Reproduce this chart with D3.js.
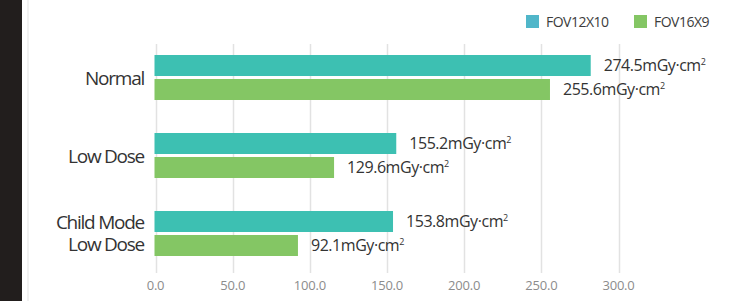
<!DOCTYPE html>
<html>
  <head>
    <meta charset="utf-8">
    <title>dose chart</title>
    <style>
      body { margin: 0; background: #fff; }
      svg text { font-family: "Open Sans", "Noto Sans", sans-serif; }
    </style>
  </head>
  <body>
    <div id="container"></div>
    <script src="https://cdn.jsdelivr.net/npm/d3@7"></script>
    <script>
      // data
      var categories = [["Normal"], ["Low Dose"], ["Child Mode", "Low Dose"]];
      var series = ["FOV12X10", "FOV16X9"];
      var fov12Values = [282.0, 156.0, 153.9];
      var fov16Values = [255.6, 115.7, 92.3];
      var fov12Labels = ["274.5", "155.2", "153.8"];
      var fov16Labels = ["255.6", "129.6", "92.1"];
      var xTicks = [0, 50, 100, 150, 200, 250, 300];
      var colors = ["#3dc0b2", "#84c664"];
      var legendColors = ["#50b6c9", "#84c664"];

      var width = 729, height = 301;

      var svg = d3.select("#container").append("svg")
        .attr("width", width)
        .attr("height", height);

      // dark strip on the left + light separator
      svg.append("rect").attr("x", 0).attr("y", 0).attr("width", 22).attr("height", height).style("fill", "#221e1d");
      svg.append("rect").attr("x", 27).attr("y", 0).attr("width", 2).attr("height", height).style("fill", "#f1f1f1");

      var x = d3.scaleLinear().domain([0, 300]).range([155.5, 618.5]);
      var keys = categories.map(function(d, i) { return i; });
      var y0 = d3.scaleBand().domain(keys).range([55, 256]).paddingInner(0.423).paddingOuter(0);
      var y1 = d3.scaleBand().domain(series).range([0, y0.bandwidth()]).paddingInner(0.125);

      // grid
      svg.selectAll(".grid")
          .data(xTicks)
        .enter().append("line")
          .attr("class", "grid")
          .attr("x1", function(d) { return Math.round(x(d)) + 0.5; })
          .attr("x2", function(d) { return Math.round(x(d)) + 0.5; })
          .attr("y1", 44)
          .attr("y2", 273)
          .style("stroke", "#e2e2e2")
          .style("stroke-width", 1.5);

      svg.selectAll(".tick-label")
          .data(xTicks)
        .enter().append("text")
          .attr("class", "tick-label")
          .attr("x", function(d) { return x(d); })
          .attr("y", 290)
          .attr("text-anchor", "middle")
          .style("font-size", "13px")
          .style("fill", "#8c8c8c")
          .style("letter-spacing", "-0.2px")
          .text(function(d) { return d.toFixed(1); });

      var rows = keys.map(function(i) {
        return [
          {k: series[0], v: fov12Values[i], t: fov12Labels[i], c: colors[0], i: i},
          {k: series[1], v: fov16Values[i], t: fov16Labels[i], c: colors[1], i: i}
        ];
      });

      var g = svg.selectAll(".group")
          .data(rows)
        .enter().append("g")
          .attr("class", "group")
          .attr("transform", function(d, i) { return "translate(0," + y0(i) + ")"; });

      g.selectAll("rect")
          .data(function(d) { return d; })
        .enter().append("rect")
          .attr("x", x(0) - 1)
          .attr("y", function(d) { return y1(d.k); })
          .attr("width", function(d) { return x(d.v) - x(0) + 1; })
          .attr("height", y1.bandwidth())
          .style("fill", function(d) { return d.c; });

      var vl = g.selectAll(".val")
          .data(function(d) { return d; })
        .enter().append("text")
          .attr("class", "val")
          .attr("x", function(d) { return x(d.v) + 13; })
          .attr("y", function(d) { return y1(d.k) + y1.bandwidth() / 2 + 5.5; })
          .style("font-size", "16px")
          .style("fill", "#333")
          .style("letter-spacing", "-0.45px");
      vl.append("tspan").text(function(d) { return d.t + "mGy·cm"; });
      vl.append("tspan").attr("dy", -6).style("font-size", "9px").text("2");

      // category labels
      var cl = svg.selectAll(".cat")
          .data(categories)
        .enter().append("text")
          .attr("class", "cat")
          .attr("text-anchor", "end")
          .style("font-size", "19px")
          .style("fill", "#333")
          .style("letter-spacing", "-1.25px");
      cl.selectAll("tspan")
          .data(function(d, i) { return d.map(function(s, j) { return {s: s, j: j, n: d.length, i: i}; }); })
        .enter().append("tspan")
          .attr("x", 144)
          .attr("y", function(d) {
            var c = y0(d.i) + y0.bandwidth() / 2;
            return c + 7 + (d.j - (d.n - 1) / 2) * 22;
          })
          .text(function(d) { return d.s; });

      // legend
      var lx = [526, 634];
      var lg = svg.selectAll(".legend")
          .data(series)
        .enter().append("g")
          .attr("class", "legend")
          .attr("transform", function(d, i) { return "translate(" + lx[i] + ",15)"; });
      lg.append("rect").attr("width", 13).attr("height", 13).style("fill", function(d, i) { return legendColors[i]; });
      lg.append("text")
          .attr("x", 20)
          .attr("y", 11.5)
          .style("font-size", "14px")
          .style("fill", "#3c3c3c")
          .style("letter-spacing", "-0.5px")
          .text(function(d) { return d; });
    </script>
  </body>
</html>
